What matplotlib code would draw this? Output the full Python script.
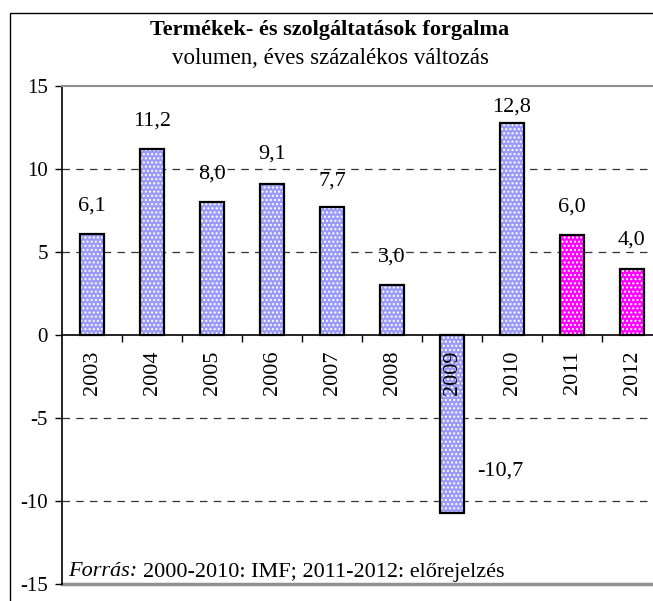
# forgalom_chart.py

import matplotlib
matplotlib.use("Agg")
import matplotlib.pyplot as plt
from matplotlib.patches import Rectangle

# ---------- ADATOK ----------
evek = ["2003", "2004", "2005", "2006", "2007", "2008", "2009", "2010", "2011", "2012"]
valtozas = [6.1, 11.2, 8.0, 9.1, 7.7, 3.0, -10.7, 12.8, 6.0, 4.0]
cimkek = ["6,1", "11,2", "8,0", "9,1", "7,7", "3,0", "-10,7", "12,8", "6,0", "4,0"]
# a címkék kézzel elhelyezett magassága (mint az eredeti Excel ábrán)
cimke_y = [7.75, 12.9, 9.7, 10.9, 9.3, 4.7, -8.2, 13.75, 7.7, 5.7]
cimke_dx = [0, 0, 0, 0, 0, 0, 0.8, 0, 0, 0]
elorejelzes = [False] * 8 + [True] * 2
y_tickek = [15, 10, 5, 0, -5, -10, -15]
y_ticklabels = ["15", "10", "5", "0", "-5", "-10", "-15"]

cim = "Termékek- és szolgáltatások forgalma"
alcim = "volumen, éves százalékos változás"
forras_1 = "Forrás:"
forras_2 = "2000-2010: IMF; 2011-2012: előrejelzés"

plt.rcParams["font.family"] = ["Liberation Serif", "DejaVu Serif"]

W, H = 653, 601
fig = plt.figure(figsize=(W / 100, H / 100), dpi=100)

# külső keret (jobb és alsó széle kilóg a képből)
fig.patches.append(Rectangle((10 / W, -0.1), 1.0, 1 - 13 / H + 0.1,
                             transform=fig.transFigure, fill=False,
                             edgecolor="black", linewidth=1.0))

ax = fig.add_axes([62 / W, 17 / H, 600 / W, 498 / H])
ax.set_xlim(-0.5, len(evek) - 0.5)
ax.set_ylim(-15, 15)

# rácsvonalak
for y in [10, 5, -5, -10]:
    ax.axhline(y, color="#333333", linewidth=0.9, dashes=(6, 5), zorder=1)

# oszlopok (a tengely feliratai alatt, ahogy az eredetin)
x = list(range(len(evek)))
szinek = ["#ff00ff" if e else "#9a9af8" for e in elorejelzes]
ax.bar(x, valtozas, width=0.4, color=szinek, edgecolor="white",
       hatch="....", linewidth=0, zorder=1.5)
ax.bar(x, valtozas, width=0.4, fill=False, edgecolor="black",
       linewidth=1.6, zorder=1.6)

# értékcímkék
for i in x:
    ax.text(i + cimke_dx[i], cimke_y[i], cimkek[i], ha="center", va="center",
            fontsize=16, zorder=4)

# tengelyek
ax.spines["right"].set_visible(False)
ax.spines["top"].set_color("#909090")
ax.spines["top"].set_linewidth(1.5)
ax.spines["left"].set_linewidth(1.2)
ax.spines["bottom"].set_position(("data", 0))
ax.spines["bottom"].set_linewidth(1.2)
ax.axhline(-15, color="#909090", linewidth=2.5, zorder=1, clip_on=False)

ax.set_yticks(y_tickek)
ax.set_yticklabels(y_ticklabels, fontsize=15)
ax.tick_params(axis="y", direction="out", length=5, width=1, pad=5)

ax.set_xticks([i + 0.5 for i in range(len(evek) - 1)])
ax.set_xticklabels([])
ax.tick_params(axis="x", which="major", direction="out", length=5, width=1)
ax.set_xticks(x, minor=True)
ax.set_xticklabels(evek, minor=True, rotation=90, fontsize=16, va="top")
ax.tick_params(axis="x", which="minor", length=0, pad=11)

# címek
fig.text(330 / W, 1 - 30 / H, cim, ha="center", va="center",
         fontsize=16, fontweight="bold")
fig.text(330 / W, 1 - 59 / H, alcim, ha="center", va="center", fontsize=16.5)

# forrás
t1 = fig.text(68 / W, 1 - 572 / H, forras_1, ha="left", va="center",
              fontsize=16, style="italic")
ax.annotate(forras_2, xy=(1, 0.5), xycoords=t1, xytext=(4, 0),
            textcoords="offset points", ha="left", va="center", fontsize=16)

fig.savefig("out.png", dpi=100)
